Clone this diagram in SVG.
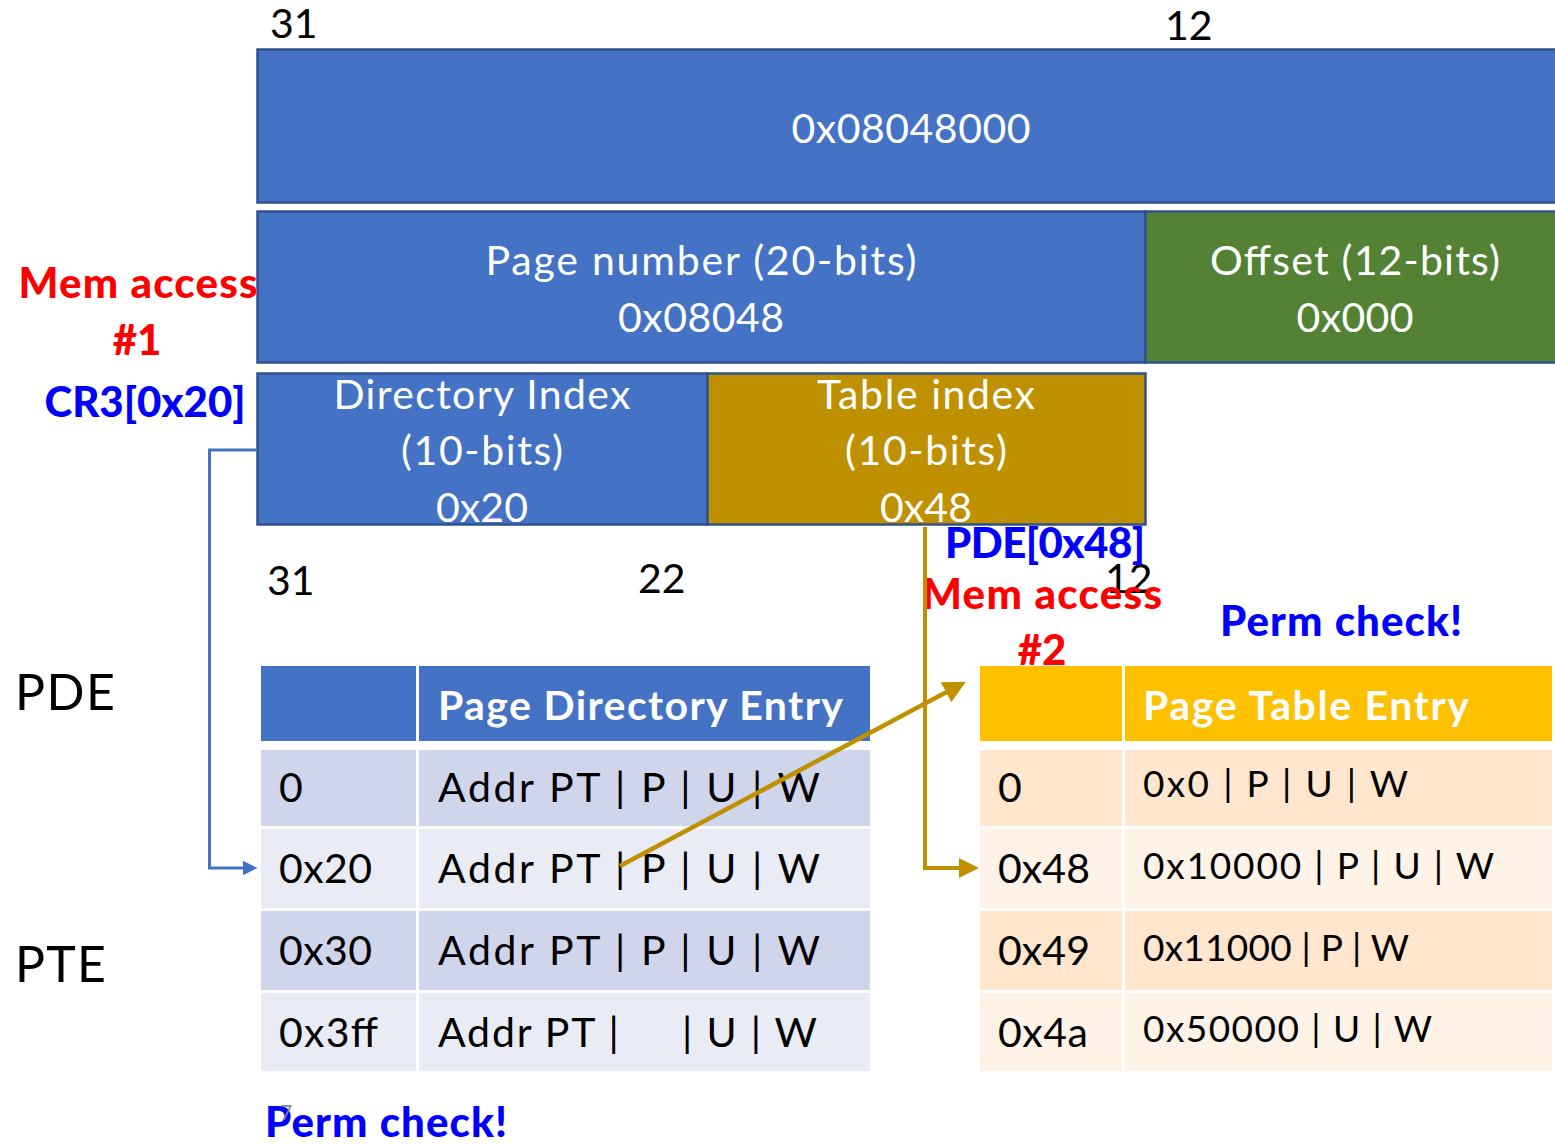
<svg xmlns="http://www.w3.org/2000/svg" width="1555" height="1145" viewBox="0 0 1555 1145">
<style>
.t{font-family:Lato,"Open Sans","Liberation Sans",sans-serif}
.w{fill:#fff;font-size:41px}
.k{fill:#000;font-size:41px}
.b{font-weight:bold}
.red{fill:#ff0000;font-size:42px;font-weight:900}
.blu{fill:#0000ff;font-size:42px;font-weight:900}
.box{stroke:#2F528F;stroke-width:2.5}
.cell{font-size:41px;fill:#000}
.pcell{font-size:37px;fill:#000}
</style>
<defs>
<marker id="ab" markerWidth="5" markerHeight="5" refX="2.5" refY="2.5" orient="auto" markerUnits="strokeWidth"><path d="M0,0 L5,2.5 L0,5 Z" fill="#4472C4"/></marker>
<marker id="ag" markerWidth="5" markerHeight="5" refX="2.5" refY="2.5" orient="auto" markerUnits="strokeWidth"><path d="M0,0 L5,2.5 L0,5 Z" fill="#BF9000"/></marker>
</defs>
<rect width="1555" height="1145" fill="#fff"/>

<g id="bits-top" class="t">
<text x="270" y="38" class="k">31</text>
<text x="1165" y="40" class="k">12</text>
</g>
<g id="vaddr">
<rect x="257.5" y="49.5" width="1300" height="153" fill="#4472C4" class="box"/>
<text x="911" y="143" text-anchor="middle" class="t w" textLength="239">0x08048000</text>
</g>
<g id="pagenum">
<rect x="257.5" y="211.5" width="888" height="151" fill="#4472C4" class="box"/>
<text x="701" y="275" text-anchor="middle" class="t w" textLength="431">Page number (20-bits)</text>
<text x="701" y="332" text-anchor="middle" class="t w" textLength="166">0x08048</text>
</g>
<g id="offset">
<rect x="1145.5" y="211.5" width="412" height="151" fill="#548235" class="box"/>
<text x="1355" y="275" text-anchor="middle" class="t w" textLength="290">Offset (12-bits)</text>
<text x="1355" y="332" text-anchor="middle" class="t w" textLength="117">0x000</text>
</g>
<g id="dirindex">
<rect x="257.5" y="373.5" width="450" height="151" fill="#4472C4" class="box"/>
<text x="482" y="409" text-anchor="middle" class="t w" textLength="297">Directory Index</text>
<text x="482" y="465" text-anchor="middle" class="t w" textLength="162">(10-bits)</text>
<text x="482" y="522" text-anchor="middle" class="t w" textLength="92">0x20</text>
</g>
<g id="tabindex">
<rect x="707.5" y="373.5" width="438" height="151" fill="#BF9000" class="box"/>
<text x="926" y="409" text-anchor="middle" class="t w" textLength="218">Table index</text>
<text x="926" y="465" text-anchor="middle" class="t w" textLength="162">(10-bits)</text>
<text x="926" y="522" text-anchor="middle" class="t w" textLength="92">0x48</text>
</g>

<g id="labels" class="t">
<text x="138" y="298" text-anchor="middle" class="red" textLength="239">Mem access</text>
<text x="137" y="355" text-anchor="middle" class="red">#1</text>
<text x="145" y="417" text-anchor="middle" class="blu" textLength="201">CR3[0x20]</text>
<text x="267" y="595" class="k">31</text>
<text x="638" y="593" class="k">22</text>
<text x="1105" y="593" class="k">12</text>
<text x="1045" y="558" text-anchor="middle" class="blu" textLength="200">PDE[0x48]</text>
<text x="1042" y="609" text-anchor="middle" class="red" textLength="240">Mem access</text>
<text x="1042" y="665" text-anchor="middle" class="red">#2</text>
<text x="1341" y="636" text-anchor="middle" class="blu" textLength="242">Perm check!</text>
<text x="15" y="710" class="k" style="font-size:50px" textLength="100">PDE</text>
<text x="15" y="982" class="k" style="font-size:50px" textLength="91">PTE</text>
<text x="386" y="1137" text-anchor="middle" class="blu" textLength="242">Perm check!</text>
<text x="280" y="1120" style="font-size:21px;fill:#888">7</text>
</g>

<g id="pde-table" class="t">
<rect x="261" y="666" width="155" height="75" fill="#4472C4"/>
<rect x="419" y="666" width="451" height="75" fill="#4472C4"/>
<text x="438" y="720" fill="#fff" class="b" style="font-size:41px" textLength="405">Page Directory Entry</text>
<rect x="261" y="750" width="155" height="76" fill="#CFD5EA"/>
<rect x="419" y="750" width="451" height="76" fill="#CFD5EA"/>
<rect x="261" y="829" width="155" height="79" fill="#E9EBF5"/>
<rect x="419" y="829" width="451" height="79" fill="#E9EBF5"/>
<rect x="261" y="911" width="155" height="79" fill="#CFD5EA"/>
<rect x="419" y="911" width="451" height="79" fill="#CFD5EA"/>
<rect x="261" y="993" width="155" height="78" fill="#E9EBF5"/>
<rect x="419" y="993" width="451" height="78" fill="#E9EBF5"/>
<text x="279" y="802" class="cell">0</text>
<text x="438" y="802" class="cell" textLength="382">Addr PT | P | U | W</text>
<text x="279" y="883" class="cell" textLength="93">0x20</text>
<text x="438" y="883" class="cell" textLength="382">Addr PT | P | U | W</text>
<text x="279" y="965" class="cell" textLength="93">0x30</text>
<text x="438" y="965" class="cell" textLength="382">Addr PT | P | U | W</text>
<text x="279" y="1047" class="cell" textLength="99">0x3ff</text>
<text x="438" y="1047" class="cell" xml:space="preserve" textLength="379">Addr PT |     | U | W</text>
</g>

<g id="pte-table" class="t">
<rect x="980" y="666" width="142" height="75" fill="#FFC000"/>
<rect x="1125" y="666" width="427" height="75" fill="#FFC000"/>
<text x="1143" y="720" fill="#fff" class="b" style="font-size:41px" textLength="326">Page Table Entry</text>
<rect x="980" y="750" width="142" height="76" fill="#FFE6CC"/>
<rect x="1125" y="750" width="427" height="76" fill="#FFE6CC"/>
<rect x="980" y="829" width="142" height="79" fill="#FFF2E6"/>
<rect x="1125" y="829" width="427" height="79" fill="#FFF2E6"/>
<rect x="980" y="911" width="142" height="79" fill="#FFE6CC"/>
<rect x="1125" y="911" width="427" height="79" fill="#FFE6CC"/>
<rect x="980" y="993" width="142" height="78" fill="#FFF2E6"/>
<rect x="1125" y="993" width="427" height="78" fill="#FFF2E6"/>
<text x="998" y="802" class="cell">0</text>
<text x="1143" y="797" class="pcell" textLength="265">0x0 | P | U | W</text>
<text x="998" y="883" class="cell" textLength="92">0x48</text>
<text x="1143" y="879" class="pcell" textLength="351">0x10000 | P | U | W</text>
<text x="998" y="965" class="cell" textLength="92">0x49</text>
<text x="1143" y="961" class="pcell" textLength="266">0x11000 | P | W</text>
<text x="998" y="1047" class="cell" textLength="90">0x4a</text>
<text x="1143" y="1042" class="pcell" textLength="289">0x50000 | U | W</text>
</g>

<g id="connectors" fill="none">
<path d="M257,450 H209.5 V868 H250" stroke="#4472C4" stroke-width="3" marker-end="url(#ab)"/>
<path d="M925,527 V868 H969" stroke="#BF9000" stroke-width="4" marker-end="url(#ag)"/>
<path d="M620,866 L956,687" stroke="#BF9000" stroke-width="4.5" marker-end="url(#ag)"/>
</g>
</svg>
